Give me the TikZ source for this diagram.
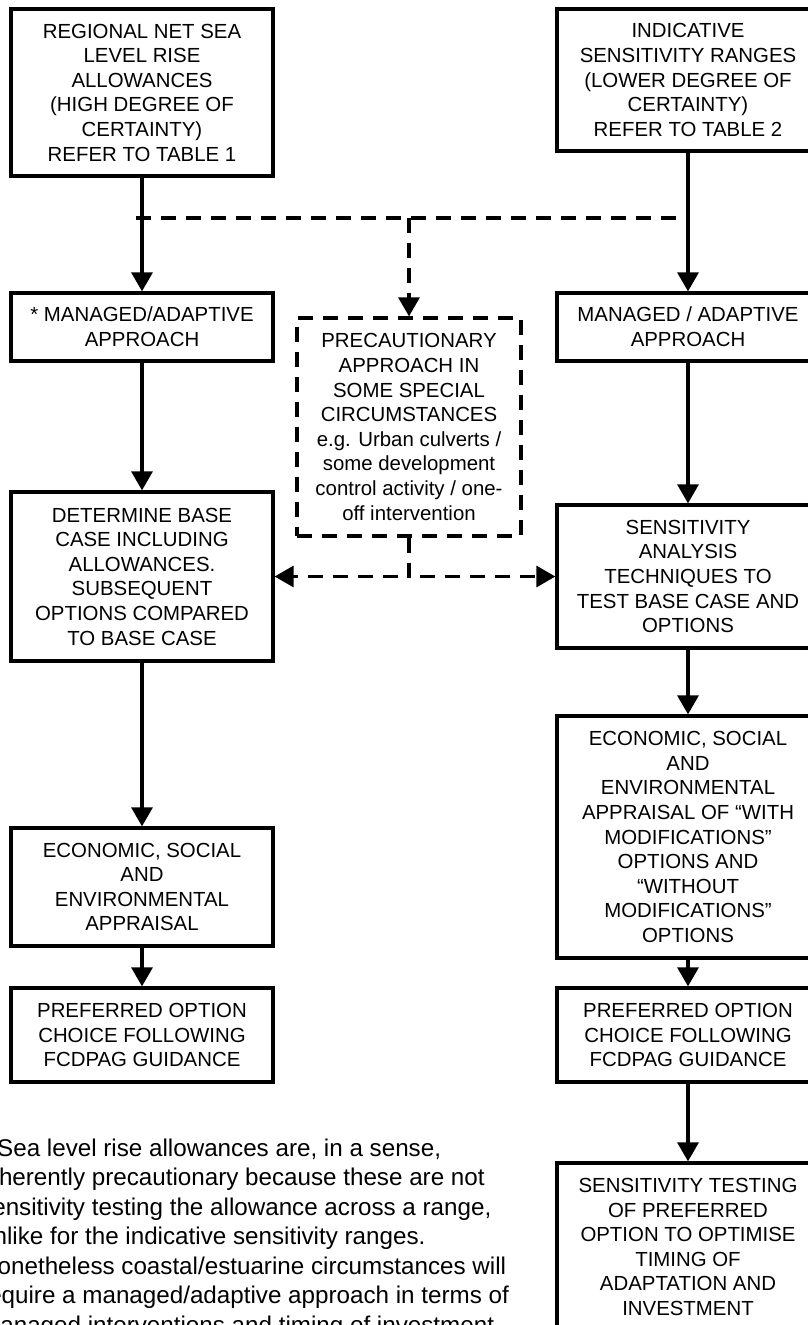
\documentclass[tikz,border=0pt]{standalone}
\usepackage{fontspec}
\setmainfont{Liberation Sans}
\usetikzlibrary{arrows.meta}
\newcommand\boxfont{\fontsize{20.4}{24.6}\selectfont}
\newcommand\notefont{\fontsize{24.2}{29.5}\selectfont}

\begin{document}
\begin{tikzpicture}[x=1pt, y=-1pt,
    box/.style={draw, line width=3.3pt, minimum width=262pt, inner sep=0pt,
                align=center, font=\boxfont},
    dashbox/.style={box, dash pattern=on 15pt off 10pt, minimum width=224pt},
    flow/.style={line width=3.3pt, -{Triangle[width=21pt,length=19pt]}},
    dashflow/.style={flow, dash pattern=on 15pt off 10pt},
    dashline/.style={line width=3.3pt, dash pattern=on 15pt off 10pt}]

\useasboundingbox (0,0) rectangle (807,1325);

% left column
\node[box, minimum height=167pt] (rise) at (142,92.5)
    {REGIONAL NET SEA\\LEVEL RISE\\ALLOWANCES\\(HIGH DEGREE OF\\CERTAINTY)\\REFER TO TABLE 1};
\node[box, minimum height=68pt] (managedL) at (142,327)
    {* MANAGED/ADAPTIVE\\APPROACH};
\node[box, minimum height=169pt] (basecase) at (142,576.5)
    {DETERMINE BASE\\CASE INCLUDING\\ALLOWANCES.\\SUBSEQUENT\\OPTIONS COMPARED\\TO BASE CASE};
\node[box, minimum height=118pt] (appraisalL) at (142,887)
    {ECONOMIC, SOCIAL\\AND\\ENVIRONMENTAL\\APPRAISAL};
\node[box, minimum height=94pt] (preferredL) at (142,1035)
    {PREFERRED OPTION\\CHOICE FOLLOWING\\FCDPAG GUIDANCE};

% right column
\node[box, minimum height=142pt] (ranges) at (688,80)
    {INDICATIVE\\SENSITIVITY RANGES\\(LOWER DEGREE OF\\CERTAINTY)\\REFER TO TABLE 2};
\node[box, minimum height=68pt] (managedR) at (688,327)
    {MANAGED / ADAPTIVE\\APPROACH};
\node[box, minimum height=143pt] (analysis) at (688,576.5)
    {SENSITIVITY\\ANALYSIS\\TECHNIQUES TO\\TEST BASE CASE AND\\OPTIONS};
\node[box, minimum height=242pt] (appraisalR) at (688,837)
    {ECONOMIC, SOCIAL\\AND\\ENVIRONMENTAL\\APPRAISAL OF “WITH\\MODIFICATIONS”\\OPTIONS AND\\“WITHOUT\\MODIFICATIONS”\\OPTIONS};
\node[box, minimum height=94pt] (preferredR) at (688,1035)
    {PREFERRED OPTION\\CHOICE FOLLOWING\\FCDPAG GUIDANCE};
\node[box, minimum height=168pt] (testing) at (688,1247)
    {SENSITIVITY TESTING\\OF PREFERRED\\OPTION TO OPTIMISE\\TIMING OF\\ADAPTATION AND\\INVESTMENT};

% middle
\node[dashbox, minimum height=218pt] (precaution) at (409,427)
    {PRECAUTIONARY\\APPROACH IN\\SOME SPECIAL\\CIRCUMSTANCES\\e.g. Urban culverts /\\some development\\control activity / one-\\off intervention};

\node[anchor=north west, align=left, inner sep=0pt, font=\notefont] (note) at (-20,1138.5)
    {\hspace*{17pt}Sea level rise allowances are, in a sense,\\
     inherently precautionary because these are not\\
     sensitivity testing the allowance across a range,\\
     unlike for the indicative sensitivity ranges.\\
     Nonetheless coastal/estuarine circumstances will\\
     require a managed/adaptive approach in terms of\\
     managed interventions and timing of investment.};

\coordinate (splitL) at (136,218);
\coordinate (splitR) at (684,218);

\draw[flow] (rise) -- (managedL);
\draw[flow] (managedL) -- (basecase);
\draw[flow] (basecase) -- (appraisalL);
\draw[flow] (appraisalL) -- (preferredL);
\draw[flow] (ranges) -- (managedR);
\draw[flow] (managedR) -- (analysis);
\draw[flow] (analysis) -- (appraisalR);
\draw[flow] (appraisalR) -- (preferredR);
\draw[flow] (preferredR) -- (testing);

\draw[dashline] (splitL) -- (splitR);
\draw[dashflow] (splitL -| precaution.north) -- (precaution.north);
\draw[dashflow] (precaution.south) |- (basecase.east);
\draw[dashflow] (precaution.south) |- (analysis.west);

\end{tikzpicture}
\end{document}
